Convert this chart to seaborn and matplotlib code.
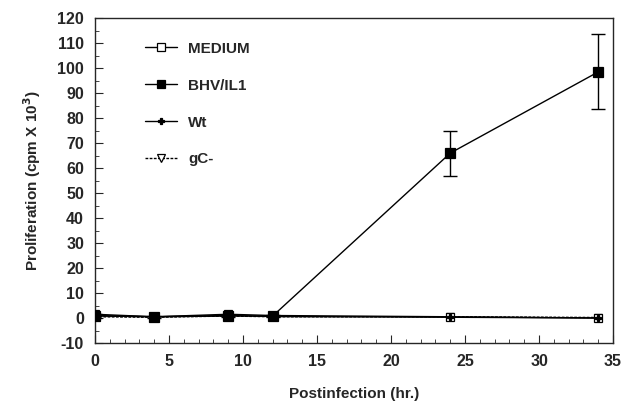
import matplotlib
matplotlib.use("Agg")
import matplotlib.pyplot as plt
import seaborn as sns
import pandas as pd
from matplotlib.ticker import MultipleLocator

hours = [0, 4, 9, 12, 24, 34]
medium = [1.5, 0.5, 1.5, 1.0, 0.5, 0.0]
bhv_il1 = [1.0, 0.5, 0.8, 0.8, 66.0, 98.5]
bhv_err = [0.8, 0.4, 0.5, 0.5, 9.0, 15.0]
wt = [0.8, 0.5, 1.0, 0.6, 0.3, 0.0]
gc_minus = [0.5, 0.3, 0.8, 0.5, 0.5, 0.2]

df = pd.DataFrame({"hours": hours, "MEDIUM": medium, "BHV/IL1": bhv_il1,
                   "Wt": wt, "gC-": gc_minus})

sns.set_style("ticks")
plt.rcParams["font.family"] = ["Liberation Sans", "DejaVu Sans"]
plt.rcParams["font.weight"] = "bold"
plt.rcParams["axes.unicode_minus"] = False

fig = plt.figure(figsize=(6.34, 4.13), dpi=100)
ax = fig.add_axes([0.150, 0.1695, 0.817, 0.7865])

styles = {
    "MEDIUM": dict(marker="s", mfc="white", ls="-", ms=6, z=4),
    "BHV/IL1": dict(marker="s", mfc="black", ls="-", ms=7.5, z=6),
    "Wt": dict(marker="P", mfc="black", ls="-", ms=5, z=5),
    "gC-": dict(marker="v", mfc="white", ls=(0, (2, 1)), ms=6, z=3),
}
for name, st in styles.items():
    sns.lineplot(data=df, x="hours", y=name, ax=ax, color="black", lw=1.0,
                 marker=st["marker"], markersize=st["ms"],
                 markerfacecolor=st["mfc"], markeredgecolor="black",
                 markeredgewidth=0.9, linestyle=st["ls"], label=name,
                 zorder=st["z"])

ax.errorbar(hours, bhv_il1, yerr=bhv_err, fmt="none", ecolor="black",
            elinewidth=1.0, capsize=5, capthick=1.0, zorder=6)

ax.set_xlim(0, 35)
ax.set_ylim(-10, 120)
ax.xaxis.set_major_locator(MultipleLocator(5))
ax.xaxis.set_minor_locator(MultipleLocator(1))
ax.yaxis.set_major_locator(MultipleLocator(10))
ax.yaxis.set_minor_locator(MultipleLocator(5))
ax.tick_params(which="both", direction="in", top=False, right=False)
ax.tick_params(which="major", length=6, labelsize=11.5, pad=8)
ax.tick_params(which="minor", length=3)
for lbl in ax.get_xticklabels() + ax.get_yticklabels():
    lbl.set_fontweight("bold")
for sp in ax.spines.values():
    sp.set_visible(True)
    sp.set_linewidth(1.0)

ax.set_xlabel("Postinfection (hr.)", fontsize=11, fontweight="bold", labelpad=13)
ax.set_ylabel("Proliferation (cpm X 10$^{3}$)", fontsize=11, fontweight="bold", labelpad=10)

leg = ax.legend(loc="upper left", bbox_to_anchor=(0.07, 0.97), frameon=False,
                handlelength=2.1, handletextpad=0.7, labelspacing=1.5,
                markerscale=0.85, prop={"weight": "bold", "size": 11})

fig.savefig("out.png", dpi=100)
